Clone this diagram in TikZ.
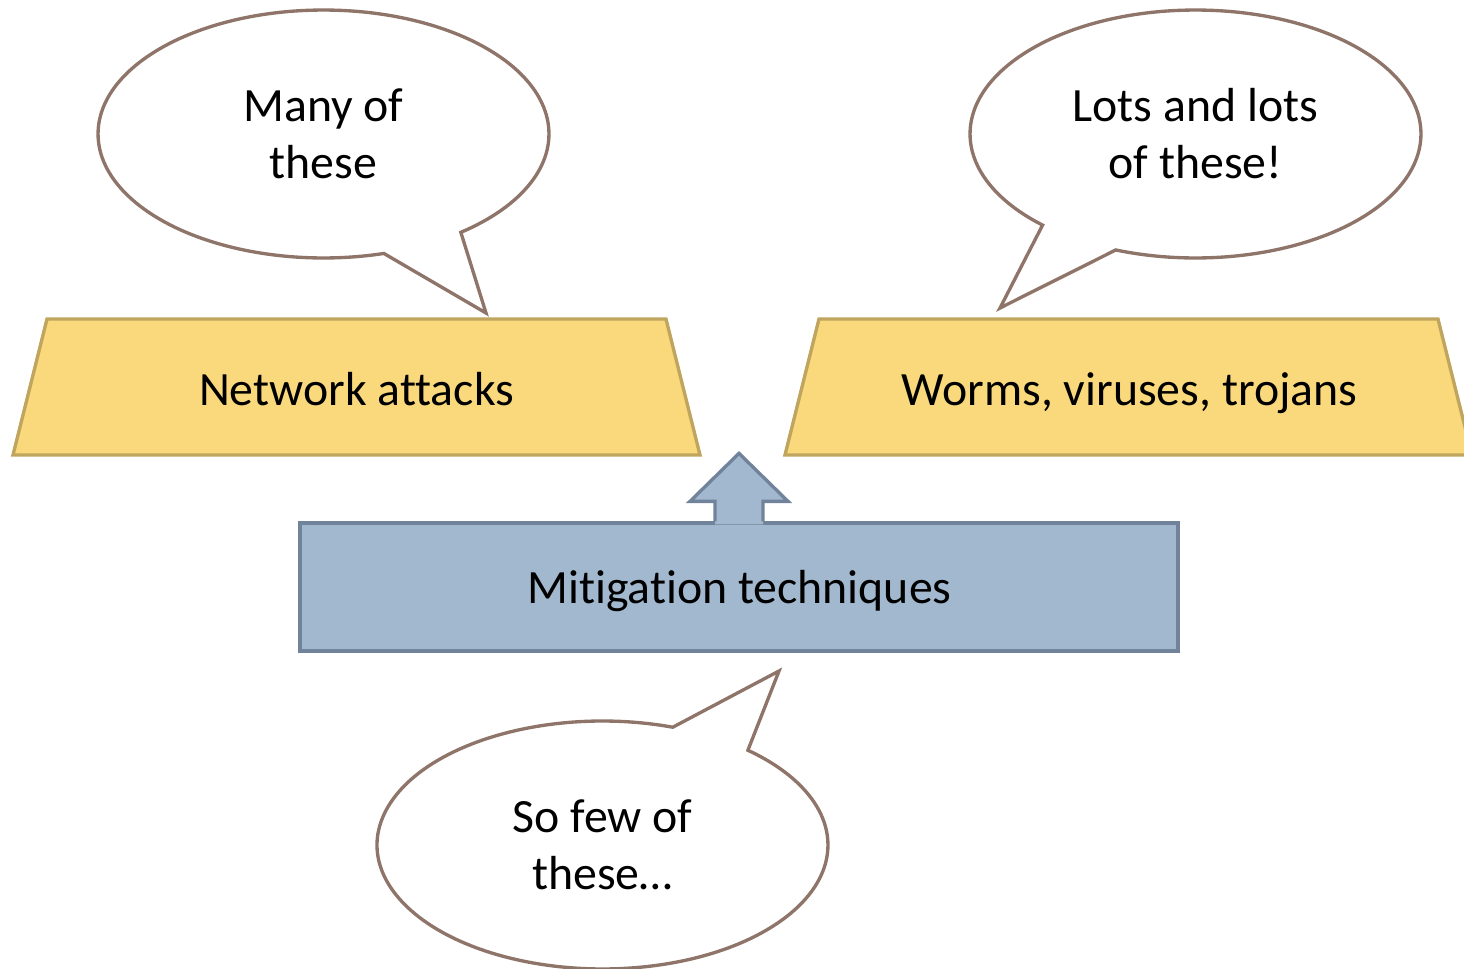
\documentclass[tikz,border=0pt]{standalone}
\usepackage{fontspec}
\setmainfont[RawFeature={-liga;-clig;-calt;-dlig}]{Carlito}
\usepackage{tikz}
\usetikzlibrary{shapes.callouts}
\definecolor{bubbleline}{HTML}{8E7469}
\definecolor{attackfill}{HTML}{F9D97B}
\definecolor{attackline}{HTML}{BFA55E}
\definecolor{mitfill}{HTML}{A2B8CF}
\definecolor{mitline}{HTML}{71839A}

\begin{document}
\begin{tikzpicture}[x=0.02cm, y=-0.02cm,
        every node/.style={font=\fontsize{27.2}{32.5}\selectfont, align=center},
        bubble/.style={ellipse callout, draw=bubbleline, fill=white, line width=1.9pt,
            minimum width=9.02cm, minimum height=4.96cm, callout pointer arc=22},
        attack/.style={draw=attackline, fill=attackfill, line width=1.9pt, line join=miter},
        mitbox/.style={rectangle, draw=mitline, fill=mitfill, line width=1.9pt,
            minimum width=17.56cm, minimum height=2.56cm}]
        \useasboundingbox (0, 0) rectangle (1464, 968);
        \draw[attack] (13, 455) -- (47, 319) -- (666, 319) -- (700, 455) -- cycle; % left trapezoid
        \draw[attack] (785, 455) -- (819, 319) -- (1438, 319) -- (1472, 455) -- cycle; % right trapezoid
        \node[anchor=base] (net) at (356.5, 405) {Network attacks};
        \node[anchor=base] (worms) at (1129.5, 405) {Worms, viruses, trojans};
        \node[mitbox] (mit) at (739, 587) {};
        \node[anchor=base] (mittext) at (739.5, 603) {Mitigation techniques};
        % up arrow on top of the box
        \fill[mitfill, shift={(mit.north)}] (-24, 3) -- (-24, -20) -- (-49, -20) -- (0, -68)
            -- (49, -20) -- (24, -20) -- (24, 3) -- cycle;
        \draw[mitline, line width=1.9pt, line join=miter, shift={(mit.north)}] (-24, 0) -- (-24, -20)
            -- (-49, -20) -- (0, -68) -- (49, -20) -- (24, -20) -- (24, 0);
        % callouts
        \node[bubble, callout absolute pointer={(486, 313)}] (many) at (323.5, 134) {Many of\\these};
        \node[bubble, callout absolute pointer={(1000, 308)}] (lots) at (1195.5, 134) {Lots and lots\\of these!};
        \node[bubble, callout absolute pointer={(779, 671)}] (few) at (602.5, 845) {So few of\\these…};
    \end{tikzpicture}
\end{document}
